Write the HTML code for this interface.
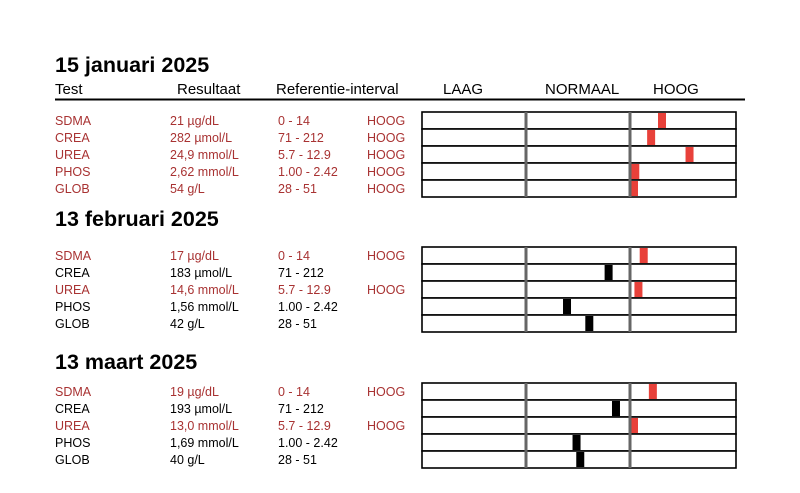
<!DOCTYPE html>
<html><head><meta charset="utf-8"><style>
body{margin:0;background:#fff;width:800px;height:493px;overflow:hidden}
svg{display:block;font-family:"Liberation Sans",Arial,sans-serif}
</style></head><body>
<svg id="c" width="800" height="493"></svg>
<script>
const sectionTitles=["15 januari 2025","13 februari 2025","13 maart 2025"];
const tests=["SDMA","CREA","UREA","PHOS","GLOB"];
const units=["µg/dL","µmol/L","mmol/L","mmol/L","g/L"];
const refLow=[0,71,5.7,1.00,28];
const refHigh=[14,212,12.9,2.42,51];
const refLabels=["0 - 14","71 - 212","5.7 - 12.9","1.00 - 2.42","28 - 51"];
const resultLabels=[["21","282","24,9","2,62","54"],["17","183","14,6","1,56","42"],["19","193","13,0","1,69","40"]];
const values=[[21,282,24.9,2.62,54],[17,183,14.6,1.56,42],[19,193,13.0,1.69,40]];

const NS="http://www.w3.org/2000/svg";
const svg=document.getElementById('c');
function mk(t,a,txt){const e=document.createElementNS(NS,t);for(const k in a)e.setAttribute(k,a[k]);if(txt!=null)e.textContent=txt;svg.appendChild(e);return e;}
const RED="#a83232",BAR_RED="#e8413a";
const boxL=422,seg=104,boxR=736,rowH=17;
function xScale(v,lo,hi){
  const r=hi-lo;
  if(v<lo){return boxL+seg-Math.min(seg-4,(lo-v)/r*67);}
  if(v<=hi){return boxL+seg+(v-lo)/r*seg;}
  const ratio=v/hi;
  return boxL+2*seg+Math.min(seg-8,Math.max(4,64*(ratio-1)));
}
let e;
e=mk('text',{x:55,y:94,'font-size':15},"Test");

e=mk('text',{x:177,y:94,'font-size':15},"Resultaat");

e=mk('text',{x:276,y:94,'font-size':15},"Referentie-interval");

e=mk('text',{x:443,y:94,'font-size':15},"LAAG");

e=mk('text',{x:545,y:94,'font-size':15},"NORMAAL");

e=mk('text',{x:653,y:94,'font-size':15},"HOOG");

e=mk('line',{x1:55,x2:745,y1:99.5,y2:99.5,stroke:'#000','stroke-width':2});


const titleY=[72,226,369],boxTop=[112,247,383];
sectionTitles.forEach((tt,s)=>{
  e=mk('text',{x:55,y:titleY[s],'font-size':21.5,'font-weight':'bold'},tt);
  
  const top=boxTop[s];
  tests.forEach((name,i)=>{
    const v=values[s][i],high=v>refHigh[i],low=v<refLow[i];
    const col=(high||low)?RED:'#000';
    const ty=top+i*rowH+13;
    e=mk('text',{x:55,y:ty,'font-size':12.5,fill:col},name);
    
    e=mk('text',{x:170,y:ty,'font-size':12.5,fill:col},resultLabels[s][i]+" "+units[i]);
    
    e=mk('text',{x:278,y:ty,'font-size':12.5,fill:col},refLabels[i]);
    
    if(high||low){
      e=mk('text',{x:367,y:ty,'font-size':12.5,fill:col},high?"HOOG":"LAAG");
      
    }
    const y=top+i*rowH;
    e=mk('rect',{x:boxL,y:y,width:boxR-boxL,height:rowH,fill:'#fff',stroke:'#000','stroke-width':1.6});
    
    const cx=xScale(v,refLow[i],refHigh[i]);
    e=mk('rect',{x:cx-4,y:y+1,width:8,height:rowH-2,fill:(high||low)?BAR_RED:'#000'});
    
  });
  [boxL+seg,boxL+2*seg].forEach(dx=>{
    e=mk('line',{x1:dx,x2:dx,y1:top,y2:top+5*rowH,stroke:'#666','stroke-width':3});
    
  });
});
</script>
</body></html>
